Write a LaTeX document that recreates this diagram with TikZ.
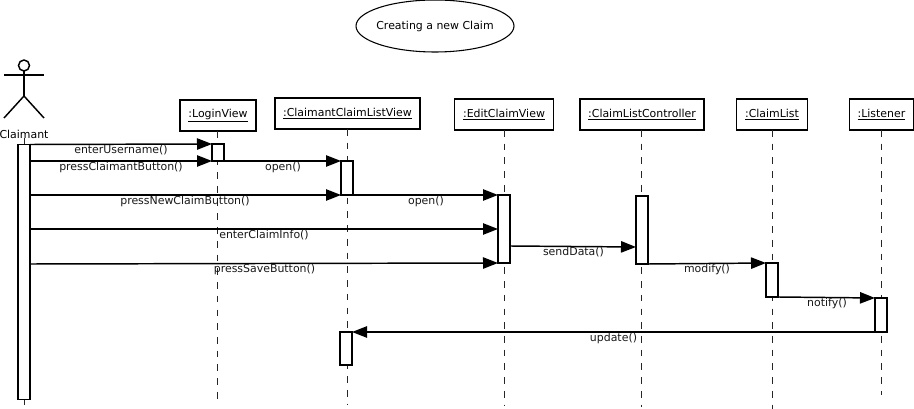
\documentclass[tikz,border=0pt]{standalone}
\usepackage{fontspec}
\setmainfont{DejaVu Sans}
\usetikzlibrary{arrows.meta,shapes.geometric}
\tikzset{
  x=0.75pt,y=-0.75pt,
  every node/.style={font=\fontsize{8.2pt}{10pt}\selectfont,inner sep=0pt,outer sep=0pt},
  objbox/.style={draw=black,line width=1.1pt,fill=white,minimum height=23.25pt,anchor=center},
  actbar/.style={draw=black,line width=1.1pt,fill=white,minimum width=9pt},
  lifeline/.style={draw=black!85,line width=0.8pt,dash pattern=on 5pt off 5.3pt},
  msg/.style={draw=black,line width=1.1pt,-{Triangle[length=11.25pt,width=8.5pt]}},
  msglabel/.style={text=black!90},
  stick/.style={draw=black,line width=1.1pt}
}
\begin{document}
\begin{tikzpicture}
\useasboundingbox (0,0) rectangle (914,409);
\fill[white] (0,0) rectangle (914,409);

\node[ellipse,draw=black,line width=0.8pt,minimum width=118.5pt,minimum height=39pt] (title) at (435,26) {\makebox[0pt]{Creating a new Claim}};

% actor
\node (claimant) at (24,134) {Claimant};
\node[circle,draw=black,line width=1.1pt,minimum size=8.25pt] (head) at (24,65.5) {};
\coordinate (hip) at (24,96);
\coordinate (armL) at (4,75);
\coordinate (armR) at (44,75);
\coordinate (legL) at (4,118);
\coordinate (legR) at (44,118);
\draw[stick] (head.south) -- (hip);
\draw[stick] (armL) -- (armR);
\draw[stick] (legL) -- (hip) -- (legR);

% objects
\node[objbox,minimum width=57pt] (login) at (218,115.5) {\underline{:LoginView}};
\node[objbox,minimum width=108.75pt] (ccl) at (347.5,113.5) {\underline{:ClaimantClaimListView}};
\node[objbox,minimum width=74pt] (edit) at (504,114.5) {\underline{:EditClaimView}};
\node[objbox,minimum width=93pt] (ctrl) at (642,114.5) {\underline{:ClaimListController}};
\node[objbox,minimum width=53pt] (clist) at (772,114.5) {\underline{:ClaimList}};
\node[objbox,minimum width=48pt] (lis) at (881.5,114.5) {\underline{:Listener}};

% lifeline ends
\coordinate (endA) at (24.5,405);
\coordinate (endB) at (217.5,400);
\coordinate (endC) at (347.5,405);
\coordinate (endD) at (504.5,405);
\coordinate (endE) at (641.5,407);
\coordinate (endF) at (772.5,409);
\coordinate (endG) at (881.5,395);
\draw[lifeline] (claimant.south -| endA) -- (endA);
\draw[lifeline] (login.south -| endB) -- (endB);
\draw[lifeline] (ccl.south -| endC) -- (endC);
\draw[lifeline] (edit.south -| endD) -- (endD);
\draw[lifeline] (ctrl.south -| endE) -- (endE);
\draw[lifeline] (clist.south -| endF) -- (endF);
\draw[lifeline] (lis.south -| endG) -- (endG);

% activation bars
\node[actbar,minimum height=191.25pt] (barA) at (24,272) {};
\node[actbar,minimum height=12.75pt] (barB) at (218,152.5) {};
\node[actbar,minimum height=25.5pt] (barC) at (347,178) {};
\node[actbar,minimum height=51pt] (barD) at (504,229) {};
\node[actbar,minimum height=51pt] (barE) at (642,230) {};
\node[actbar,minimum height=25.5pt] (barF) at (772,280) {};
\node[actbar,minimum height=25.5pt] (barG) at (881,315) {};
\node[actbar,minimum height=24.75pt] (barH) at (346,348.5) {};

% messages
\coordinate (sendA) at (510,246);
\coordinate (sendB) at (636,247);
\draw[msg] (barA.north east) -- (barB.north west);
\draw[msg] (barA.east |- barB.south west) -- (barB.south west);
\draw[msg] (barB.south east) -- (barC.north west);
\draw[msg] (barA.east |- barC.south west) -- (barC.south west);
\draw[msg] (barC.south east) -- (barD.north west);
\draw[msg] (barA.east |- barD.west) -- (barD.west);
\draw[msg] ([yshift=-0.75pt]barA.east |- barD.south west) -- (barD.south west);
\draw[msg] (sendA) -- (sendB);
\draw[msg] (barE.south east) -- (barF.north west);
\draw[msg] (barF.south east) -- (barG.north west);
\draw[msg] (barG.south west) -- (barH.north east);

% labels
\node[msglabel] (l1) at (121,150) {enterUsername()};
\node[msglabel] (l2) at (121,167) {pressClaimantButton()};
\node[msglabel] (l3) at (283,167) {open()};
\node[msglabel] (l4) at (185,201) {pressNewClaimButton()};
\node[msglabel] (l5) at (426,201) {open()};
\node[msglabel] (l6) at (264,235) {enterClaimInfo()};
\node[msglabel] (l7) at (264.5,269) {pressSaveButton()};
\node[msglabel] (l8) at (573.5,252) {sendData()};
\node[msglabel] (l9) at (707,269) {modify()};
\node[msglabel] (l10) at (827,303) {notify()};
\node[msglabel] (l11) at (613.5,338) {update()};
\end{tikzpicture}
\end{document}
